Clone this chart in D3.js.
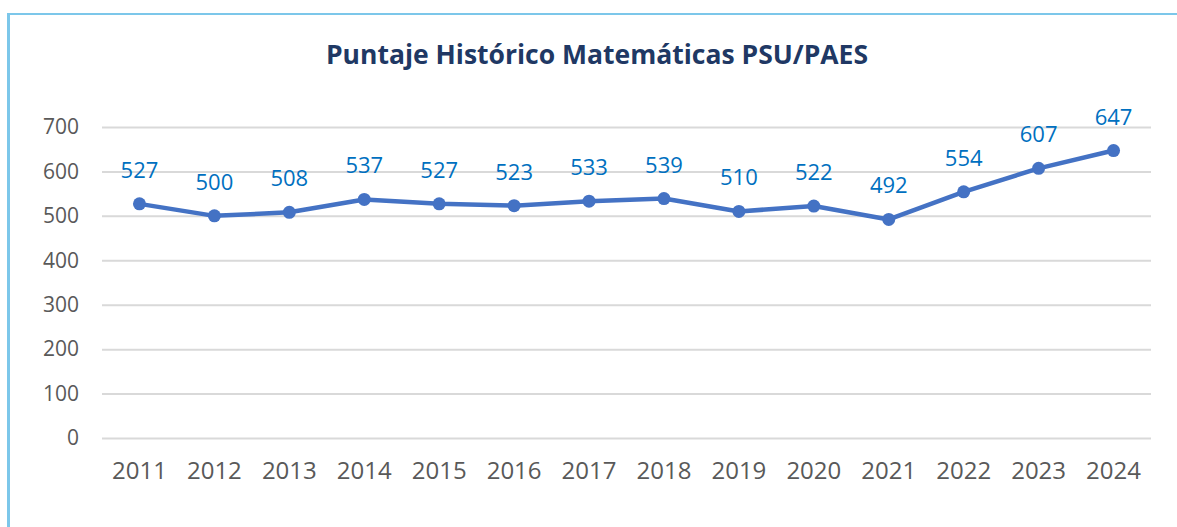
<!DOCTYPE html>
<html>
<head>
<meta charset="utf-8">
<script src="https://cdn.jsdelivr.net/npm/d3@7"></script>
<style>
  body { margin: 0; background: #fff; }
  svg { display: block; font-family: "Open Sans", sans-serif; }
</style>
</head>
<body>
<div id="okvir"></div>
<script>
const anios = ["2011","2012","2013","2014","2015","2016","2017","2018","2019","2020","2021","2022","2023","2024"];
const puntajes = [527, 500, 508, 537, 527, 523, 533, 539, 510, 522, 492, 554, 607, 647];
const yTicks = [0, 100, 200, 300, 400, 500, 600, 700];
const titulo = "Puntaje Histórico Matemáticas PSU/PAES";

const podatci = anios.map((a, i) => ({ anio: a, valor: puntajes[i] }));

const dim = {
    sirina: 1177,
    visina: 527,
    margine: { top: 127, right: 26, bottom: 89, left: 102 }
};
dim.grSirina = dim.sirina - dim.margine.left - dim.margine.right;
dim.grVisina = dim.visina - dim.margine.top - dim.margine.bottom;

const okvir = d3.select("#okvir")
    .append("svg")
        .attr("width", dim.sirina)
        .attr("height", dim.visina);

// okvir grafikona (samo gornji i lijevi rub vidljiv)
okvir.append("line")
    .attr("x1", 8.5).attr("x2", 8.5)
    .attr("y1", 13).attr("y2", dim.visina)
    .attr("stroke", "#7CC7EA").attr("stroke-width", 3);
okvir.append("line")
    .attr("x1", 7).attr("x2", dim.sirina)
    .attr("y1", 14).attr("y2", 14)
    .attr("stroke", "#7CC7EA").attr("stroke-width", 2);

okvir.append("text")
    .attr("x", 597)
    .attr("y", 64)
    .attr("text-anchor", "middle")
    .attr("fill", "#203864")
    .style("font-size", "26.5px")
    .style("font-weight", "bold")
    .text(titulo);

const granice = okvir.append("g")
    .attr("transform", `translate(${dim.margine.left},${dim.margine.top})`);

const xSkala = d3.scaleBand()
    .domain(anios)
    .range([0, dim.grSirina]);

const ySkala = d3.scaleLinear()
    .domain([0, 700])
    .range([dim.grVisina, 0]);

// mreza
granice.append("g")
    .selectAll("line")
    .data(yTicks)
    .join("line")
        .attr("x1", 0)
        .attr("x2", dim.grSirina)
        .attr("y1", d => ySkala(d) + 0.5)
        .attr("y2", d => ySkala(d) + 0.5)
        .attr("stroke", "#d9d9d9")
        .attr("stroke-width", 2);

const yOs = granice.append("g")
    .call(d3.axisLeft(ySkala).tickValues(yTicks).tickSize(0).tickPadding(23));
yOs.select(".domain").remove();
yOs.selectAll("text")
    .attr("fill", "#595959")
    .style("font-size", "21px")
    .style("font-family", "Open Sans, sans-serif");

const xOs = granice.append("g")
    .attr("transform", `translate(0,${dim.grVisina})`)
    .call(d3.axisBottom(xSkala).tickSize(0).tickPadding(24));
xOs.select(".domain").remove();
xOs.selectAll("text")
    .attr("fill", "#595959")
    .style("font-size", "24px")
    .style("font-family", "Open Sans, sans-serif");

const xAcc = d => xSkala(d.anio) + xSkala.bandwidth() / 2;
const yAcc = d => ySkala(d.valor);

granice.append("path")
    .datum(podatci)
    .attr("fill", "none")
    .attr("stroke", "#4472C4")
    .attr("stroke-width", 4.5)
    .attr("stroke-linejoin", "round")
    .attr("d", d3.line().x(xAcc).y(yAcc));

granice.selectAll("circle")
    .data(podatci)
    .join("circle")
        .attr("cx", xAcc)
        .attr("cy", yAcc)
        .attr("r", 6.5)
        .attr("fill", "#4472C4");

granice.selectAll(".oznaka")
    .data(podatci)
    .join("text")
        .attr("class", "oznaka")
        .attr("x", xAcc)
        .attr("y", d => yAcc(d) - 26)
        .attr("text-anchor", "middle")
        .attr("fill", "#0070C0")
        .style("font-size", "22px")
        .text(d => d.valor);
</script>
</body>
</html>
